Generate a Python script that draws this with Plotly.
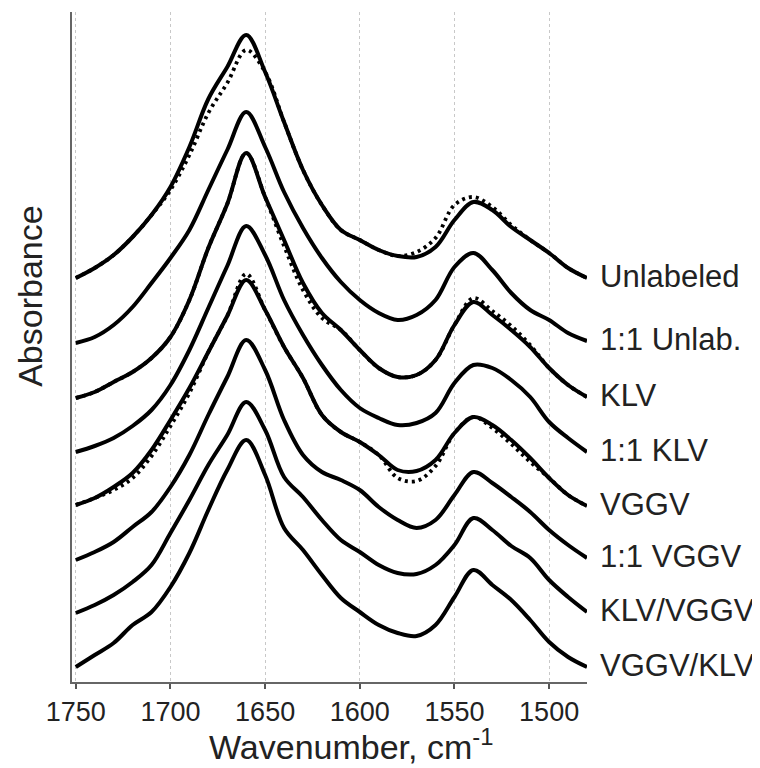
import plotly.graph_objects as go

# Wavenumbers (cm^-1)
wavenumber = [1750, 1740, 1730, 1720, 1710, 1700, 1690, 1680, 1670, 1660,
              1650, 1640, 1630, 1620, 1610, 1600, 1590, 1580, 1570, 1560,
              1550, 1540, 1530, 1520, 1510, 1500, 1490, 1480]

# Stacked absorbance (arbitrary units, offsets included)
unlabeled = [404, 414, 427, 445, 467, 495, 535, 583, 615, 647, 610, 560, 512, 477,
             452, 442, 432, 426, 425, 435, 462, 480, 472, 455, 442, 429, 414, 404]
unlabeled_dot = [404, 414, 427, 445, 467, 492, 527, 569, 599, 632, 610, 560, 512, 477,
                 452, 442, 432, 426, 430, 444, 477, 485, 475, 457, 442, 429, 414, 404]
unlab_11 = [339, 345, 357, 375, 399, 424, 452, 492, 532, 570, 535, 490, 454, 424,
            400, 382, 369, 362, 367, 382, 415, 429, 412, 389, 372, 362, 349, 341]
klv = [284, 290, 300, 310, 324, 345, 382, 434, 478, 529, 485, 442, 399, 369,
       352, 332, 314, 305, 307, 322, 357, 380, 367, 352, 335, 314, 297, 285]
klv_dot = [284, 290, 300, 310, 324, 345, 382, 434, 478, 529, 485, 436, 392, 364,
           352, 332, 314, 305, 307, 322, 357, 384, 371, 356, 337, 314, 297, 285]
klv_11 = [230, 236, 244, 256, 272, 297, 332, 374, 416, 456, 427, 382, 347, 317,
          292, 274, 264, 257, 259, 269, 299, 317, 314, 302, 285, 260, 244, 230]
vggv = [177, 184, 195, 209, 232, 262, 294, 330, 366, 402, 372, 335, 304, 267,
        250, 240, 227, 212, 211, 222, 249, 265, 257, 242, 224, 204, 187, 176]
vggv_dot = [177, 184, 192, 204, 226, 256, 289, 330, 366, 408, 372, 335, 304, 267,
            250, 240, 227, 204, 201, 216, 249, 265, 254, 238, 220, 204, 187, 176]
vggv_11 = [122, 130, 140, 155, 170, 195, 227, 267, 305, 342, 312, 262, 227, 210,
           202, 192, 175, 162, 154, 162, 187, 210, 199, 185, 170, 152, 137, 124]
klv_vggv = [69, 77, 87, 100, 117, 149, 182, 217, 247, 280, 252, 205, 185, 162,
            142, 130, 117, 109, 108, 117, 137, 164, 152, 136, 124, 102, 85, 70]
vggv_klv = [15, 27, 39, 57, 70, 95, 129, 172, 212, 242, 207, 154, 132, 107,
            84, 70, 57, 49, 46, 57, 85, 112, 97, 82, 62, 40, 25, 15]

solid_series = [unlabeled, unlab_11, klv, klv_11, vggv, vggv_11, klv_vggv, vggv_klv]
dotted_series = [unlabeled_dot, klv_dot, vggv_dot]
labels = ["Unlabeled", "1:1 Unlab.", "KLV", "1:1 KLV", "VGGV", "1:1 VGGV",
          "KLV/VGGV", "VGGV/KLV"]
tick_vals = [1750, 1700, 1650, 1600, 1550, 1500]

FONT = "Arial, Liberation Sans, Helvetica, sans-serif"
fig = go.Figure()

for s in dotted_series:
    fig.add_trace(go.Scatter(x=wavenumber, y=s, mode="lines",
                             line=dict(color="black", width=3.8, dash="3px,4px", shape="spline"),
                             hoverinfo="skip"))
for s in solid_series:
    fig.add_trace(go.Scatter(x=wavenumber, y=s, mode="lines",
                             line=dict(color="black", width=4, shape="spline"),
                             hoverinfo="skip"))

for lab, s in zip(labels, solid_series):
    fig.add_annotation(x=1.021, xref="paper", y=s[-1] + 2, yref="y", text=lab,
                       showarrow=False, xanchor="left", yanchor="middle",
                       font=dict(family=FONT, size=31, color="#222"))

# Axis titles
fig.add_annotation(x=0.542, xref="paper", y=-0.094, yref="paper",
                   text="Wavenumber, cm<sup>-1</sup>", showarrow=False,
                   xanchor="center", yanchor="middle",
                   font=dict(family=FONT, size=34, color="#222"))
fig.add_annotation(x=-0.082, xref="paper", y=0.576, yref="paper",
                   text="Absorbance", showarrow=False, textangle=-90,
                   xanchor="center", yanchor="middle",
                   font=dict(family=FONT, size=34, color="#222"))

# The page body has an 8px margin, so the figure is 8px smaller than the window
fig.update_layout(
    width=752, height=760,
    margin=dict(l=64, r=173, t=4, b=86),
    plot_bgcolor="white", paper_bgcolor="white",
    showlegend=False,
    font=dict(family=FONT, color="#222"),
    xaxis=dict(range=[1752, 1480], tickvals=tick_vals, ticks="outside", ticklen=5,
               tickwidth=1.5, tickcolor="#555",
               showline=True, linecolor="#666", linewidth=2,
               showgrid=True, gridcolor="#c8c8c8", griddash="dot", gridwidth=1,
               zeroline=False, tickfont=dict(size=27, color="#222"),
               automargin=False),
    yaxis=dict(range=[0, 670], showticklabels=False, ticks="", showline=True,
               linecolor="#666", linewidth=2, showgrid=False, zeroline=False,
               automargin=False),
)

fig.write_html("out.html")
